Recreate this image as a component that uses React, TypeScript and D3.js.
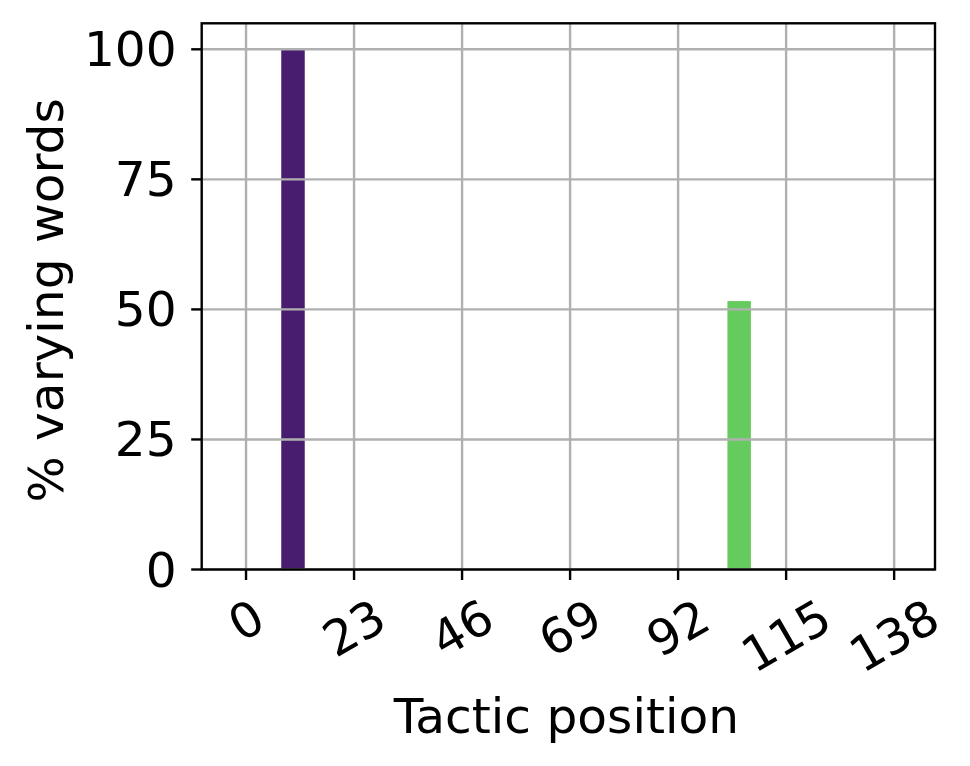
import React from "react";
import * as d3 from "d3";

const positions = [10, 105];
const values = [100, 51.6];
const barColors = ["#481c6e", "#65cb5e"];
const barWidthUnits = 5;
const xTicks = [0, 23, 46, 69, 92, 115, 138];
const yTicks = [0, 25, 50, 75, 100];
const xLabel = "Tactic position";
const yLabel = "% varying words";

const W = 970;
const H = 766;
const left = 201.7;
const right = 935;
const top = 23.3;
const bottom = 569.5;
const FS = 48.6;
const FONT = "DejaVu Sans, sans-serif";

export default function App() {
  const x = d3.scaleLinear().domain([-9.44, 146.7]).range([left, right]);
  const y = d3.scaleLinear().domain([0, 105]).range([bottom, top]);
  const bw = x(barWidthUnits) - x(0);
  const tickLen = 10.5;
  const pad = 10.5;
  const lw = 2.4;

  return (
    <svg
      width={W}
      height={H}
      style={{ position: "fixed", left: 0, top: 0, background: "#fff" }}
      fontFamily={FONT}
    >
      <rect x={0} y={0} width={W} height={H} fill="#fff" />
      {positions.map((p, i) => (
        <rect
          key={"b" + i}
          x={x(p) - bw / 2}
          y={y(values[i])}
          width={bw}
          height={y(0) - y(values[i])}
          fill={barColors[i]}
        />
      ))}
      {xTicks.map((t) => (
        <line
          key={"gx" + t}
          x1={x(t)}
          x2={x(t)}
          y1={top}
          y2={bottom}
          stroke="#b0b0b0"
          strokeWidth={lw}
        />
      ))}
      {yTicks.map((t) => (
        <line
          key={"gy" + t}
          x1={left}
          x2={right}
          y1={y(t)}
          y2={y(t)}
          stroke="#b0b0b0"
          strokeWidth={lw}
        />
      ))}
      <rect
        x={left}
        y={top}
        width={right - left}
        height={bottom - top}
        fill="none"
        stroke="#000"
        strokeWidth={lw}
      />
      {xTicks.map((t) => {
        const label = String(t);
        const w = label.length * 0.636 * FS;
        const h = FS * 1.05;
        const bh = w * 0.5 + h * 0.866;
        const cy = bottom + tickLen + pad + bh / 2;
        return (
          <g key={"xt" + t}>
            <line
              x1={x(t)}
              x2={x(t)}
              y1={bottom}
              y2={bottom + tickLen}
              stroke="#000"
              strokeWidth={lw}
            />
            <text
              transform={`translate(${x(t)},${cy}) rotate(-30)`}
              textAnchor="middle"
              dominantBaseline="central"
              fontSize={FS}
              fill="#000"
            >
              {label}
            </text>
          </g>
        );
      })}
      {yTicks.map((t) => (
        <g key={"yt" + t}>
          <line
            x1={left - tickLen}
            x2={left}
            y1={y(t)}
            y2={y(t)}
            stroke="#000"
            strokeWidth={lw}
          />
          <text
            x={left - tickLen - pad - 4}
            y={y(t)}
            textAnchor="end"
            dominantBaseline="central"
            fontSize={FS}
            fill="#000"
          >
            {t}
          </text>
        </g>
      ))}
      <text
        x={(left + right) / 2 - 2}
        y={733}
        textAnchor="middle"
        fontSize={FS}
        fill="#000"
      >
        {xLabel}
      </text>
      <text
        transform={`translate(63,${(top + bottom) / 2 + 4}) rotate(-90)`}
        textAnchor="middle"
        fontSize={FS}
        fill="#000"
      >
        {yLabel}
      </text>
    </svg>
  );
}
